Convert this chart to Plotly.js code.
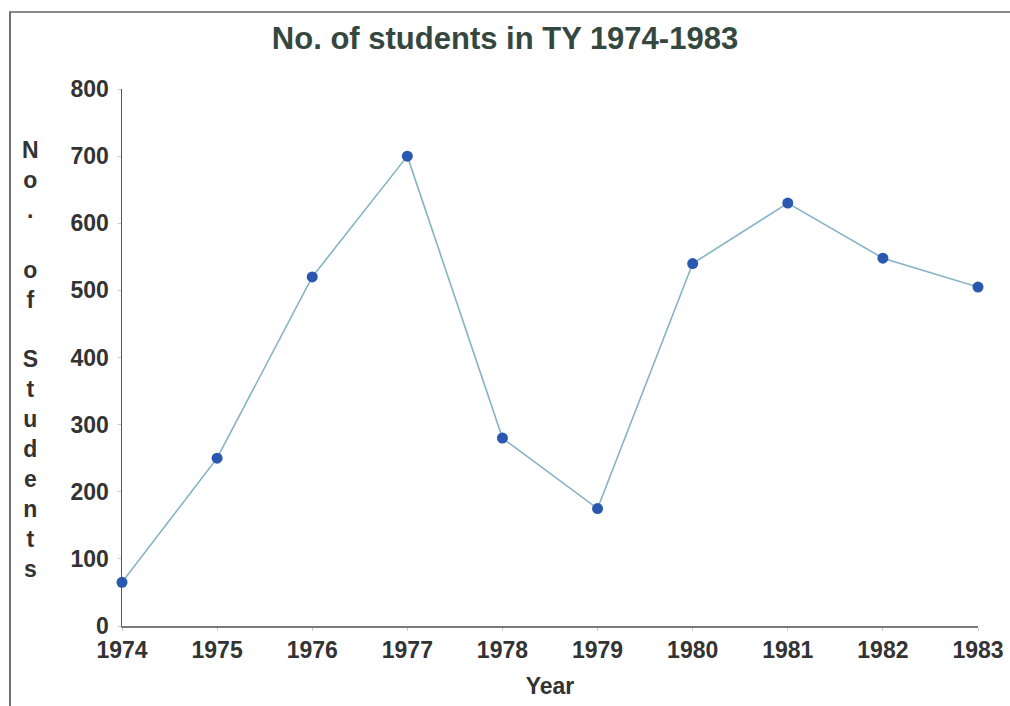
<!DOCTYPE html>
<html>
<head>
<meta charset="utf-8">
<script src="https://cdn.plot.ly/plotly-3.0.1.min.js"></script>
<style>
  html, body { margin: 0; padding: 0; background: #ffffff; }
  #wrap { position: relative; width: 1010px; height: 706px; overflow: hidden; }
  #chart { position: absolute; left: 0; top: 0; width: 1010px; height: 706px; }
  #frame { position: absolute; left: 9px; top: 11px; width: 1010px; height: 700px;
           border-top: 2px solid #8a8a8a; border-left: 2px solid #6f6f6f; pointer-events: none; }
</style>
</head>
<body>
<div id="wrap">
  <div id="chart"></div>
  <div id="frame"></div>
</div>
<script>
const years = [1974, 1975, 1976, 1977, 1978, 1979, 1980, 1981, 1982, 1983];
const students = [65, 250, 520, 700, 280, 175, 540, 630, 548, 505];
const yTicks = [0, 100, 200, 300, 400, 500, 600, 700, 800];
const chartTitle = 'No. of students in TY 1974-1983';
const xTitle = 'Year';
const yTitleLetters = ['N', 'o', '.', '\u00a0', 'o', 'f', '\u00a0', 'S', 't', 'u', 'd', 'e', 'n', 't', 's'];

const FONT = 'Liberation Sans, Arial, sans-serif';

const trace = {
  x: years,
  y: students,
  type: 'scatter',
  mode: 'lines+markers',
  line: { color: '#86b3c4', width: 1.6 },
  marker: { color: '#2a58b0', size: 11 },
  cliponaxis: false,
  hoverinfo: 'x+y'
};

const layout = {
  width: 1010,
  height: 706,
  margin: { l: 122, r: 32, t: 89, b: 80 },
  paper_bgcolor: '#ffffff',
  plot_bgcolor: '#ffffff',
  showlegend: false,
  title: {
    text: '<b>' + chartTitle + '</b>',
    font: { family: FONT, size: 31, color: '#34483f' },
    x: 0.5, xanchor: 'center', xref: 'container',
    y: 0.946, yanchor: 'middle', yref: 'container'
  },
  xaxis: {
    range: [1974, 1983],
    tickvals: years,
    ticktext: years.map(String),
    showgrid: false,
    zeroline: false,
    showline: true,
    linecolor: '#7a7a7a',
    linewidth: 1.5,
    ticks: 'outside',
    ticklen: 3,
    tickcolor: '#c8c8c8',
    tickfont: { family: FONT, size: 23, color: '#333333', weight: 'bold' },
    ticklabelstandoff: 0,
    title: {
      text: '<b>' + xTitle + '</b>',
      font: { family: FONT, size: 23, color: '#333333' },
      standoff: 16
    },
    fixedrange: true
  },
  yaxis: {
    range: [0, 800],
    tickvals: yTicks,
    ticktext: yTicks.map(String),
    showgrid: false,
    zeroline: false,
    showline: true,
    linecolor: '#555555',
    linewidth: 1.5,
    ticks: 'outside',
    ticklen: 3,
    tickcolor: '#c8c8c8',
    tickfont: { family: FONT, size: 23, color: '#333333', weight: 'bold' },
    ticklabelstandoff: 4,
    fixedrange: true
  },
  annotations: [{
    text: '<b>' + yTitleLetters.join('<br>') + '</b>',
    xref: 'paper', yref: 'paper',
    x: (30 - 122) / 856, y: (626 - 359.5) / 537,
    xanchor: 'center', yanchor: 'middle',
    align: 'center',
    showarrow: false,
    font: { family: FONT, size: 23, color: '#333333' }
  }]
};

Plotly.newPlot('chart', [trace], layout, { displayModeBar: false, staticPlot: true });
</script>
</body>
</html>
